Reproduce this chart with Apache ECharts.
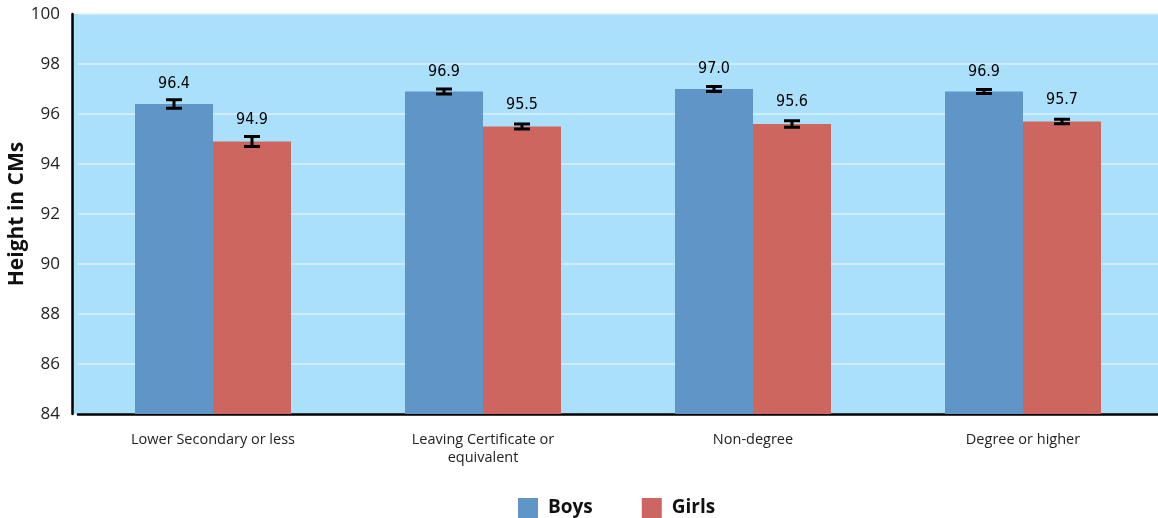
<!DOCTYPE html>
<html>
<head>
<meta charset="utf-8">
<script src="https://cdn.jsdelivr.net/npm/echarts@6/dist/echarts.min.js"></script>
<style>
    html, body { margin: 0; padding: 0; background: #fff; }
    #chart { width: 1158px; height: 518px; }
</style>
</head>
<body>
<div id="chart"></div>
<script>
const categories = ["Lower Secondary or less", "Leaving Certificate or\nequivalent", "Non-degree", "Degree or higher"];
const boys = [96.4, 96.9, 97.0, 96.9];
const girls = [94.9, 95.5, 95.6, 95.7];
// half-widths of the error bars
const boysErr = [0.17, 0.1, 0.1, 0.08];
const girlsErr = [0.2, 0.1, 0.13, 0.09];

const labelFont = "'DejaVu Sans Condensed', 'Liberation Sans Narrow', sans-serif";
const plotBg = "#aae0fa";

// draws an I-shaped error bar at the centre of the series' bar
function errorBar(offsetSign) {
    return (params, api) => {
        const idx = api.value(0);
        const lo = api.coord([idx, api.value(1)]);
        const hi = api.coord([idx, api.value(2)]);
        const x = lo[0] + offsetSign * 39;
        const cap = 8;
        const style = { stroke: "#000", lineWidth: 3 };
        return {
            type: "group",
            children: [
                { type: "line", shape: { x1: x, y1: hi[1], x2: x, y2: lo[1] }, style },
                { type: "line", shape: { x1: x - cap, y1: hi[1], x2: x + cap, y2: hi[1] }, style },
                { type: "line", shape: { x1: x - cap, y1: lo[1], x2: x + cap, y2: lo[1] }, style },
            ],
        };
    };
}

const chart = echarts.init(document.getElementById("chart"));

chart.setOption({
    animation: false,
    // the y axis sits a few pixels left of the first category band
    graphic: [
        { type: "rect", left: 72, top: 14, z: -10, shape: { width: 8, height: 400 }, style: { fill: plotBg } },
    ],
    grid: {
        left: 78,
        right: 0,
        top: 14,
        bottom: 104,
        outerBoundsMode: "none",
        containLabel: false,
        show: true,
        backgroundColor: plotBg,
        borderWidth: 0,
    },
    legend: {
        left: 513,
        top: 493,
        icon: "rect",
        itemWidth: 20,
        itemHeight: 20,
        itemGap: 49,
        data: ["Boys", "Girls"],
        textStyle: {
            fontSize: 19,
            fontWeight: "bold",
            color: "#111",
            fontFamily: "'Open Sans', sans-serif",
            padding: [0, 0, 0, 5],
        },
    },
    xAxis: {
        type: "category",
        data: categories,
        axisLine: { lineStyle: { color: "#000", width: 2.5 } },
        axisTick: { show: false },
        axisLabel: {
            fontSize: 14.5,
            color: "#222",
            margin: 17,
            lineHeight: 18,
            fontFamily: "'Open Sans', sans-serif",
        },
    },
    yAxis: {
        type: "value",
        min: 84,
        max: 100,
        interval: 2,
        offset: 6,
        name: "Height in CMs",
        nameLocation: "middle",
        nameGap: 44,
        nameMoveOverlap: false,
        nameTextStyle: { fontSize: 21, fontWeight: "bold", color: "#111", fontFamily: "'Open Sans', sans-serif" },
        axisLine: { show: true, lineStyle: { color: "#000", width: 2.5 } },
        axisTick: { show: false },
        axisLabel: { fontSize: 17, color: "#222", margin: 12, fontFamily: "'Open Sans', sans-serif" },
        splitLine: { lineStyle: { color: "#d8f0fc", width: 1.5 } },
    },
    series: [
        {
            name: "Boys",
            type: "bar",
            data: boys,
            barWidth: 78,
            barGap: "0%",
            itemStyle: { color: "#6095c8" },
            label: {
                show: true,
                position: "top",
                distance: 12,
                fontSize: 16,
                color: "#000",
                fontFamily: labelFont,
                formatter: (p) => p.value.toFixed(1),
            },
        },
        {
            name: "Girls",
            type: "bar",
            data: girls,
            barWidth: 78,
            itemStyle: { color: "#cd665f" },
            label: {
                show: true,
                position: "top",
                distance: 14,
                fontSize: 16,
                color: "#000",
                fontFamily: labelFont,
                formatter: (p) => p.value.toFixed(1),
            },
        },
        {
            name: "BoysErr",
            type: "custom",
            renderItem: errorBar(-1),
            data: boys.map((v, i) => [i, v - boysErr[i], v + boysErr[i]]),
            z: 10,
            silent: true,
        },
        {
            name: "GirlsErr",
            type: "custom",
            renderItem: errorBar(1),
            data: girls.map((v, i) => [i, v - girlsErr[i], v + girlsErr[i]]),
            z: 10,
            silent: true,
        },
    ],
});
</script>
</body>
</html>
